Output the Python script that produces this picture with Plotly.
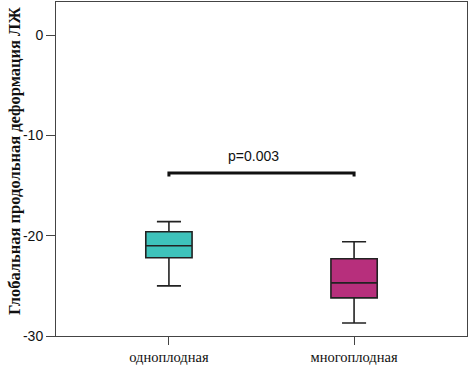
import plotly.graph_objects as go

categories = ["одноплодная", "многоплодная"]
positions = [0, 1]
q1 = [-22.2, -26.2]
median = [-21.0, -24.7]
q3 = [-19.6, -22.3]
lowerfence = [-25.0, -28.7]
upperfence = [-18.6, -20.6]
colors = ["#3EC3BB", "#B72F7C"]
bracket_y = -13.76
bracket_drop = 0.35
p_text = "p=0.003"
y_title = "Глобальная продольная деформация ЛЖ"
y_ticks = [0, -10, -20, -30]

fig = go.Figure()
for i in range(2):
    fig.add_trace(go.Box(
        x=[positions[i]], q1=[q1[i]], median=[median[i]], q3=[q3[i]],
        lowerfence=[lowerfence[i]], upperfence=[upperfence[i]],
        fillcolor=colors[i], line=dict(color="#222222", width=1.6),
        width=0.25, whiskerwidth=0.52, boxpoints=False, showlegend=False,
    ))

fig.add_trace(go.Scatter(
    x=[positions[0], positions[0], positions[1], positions[1]],
    y=[bracket_y - bracket_drop, bracket_y, bracket_y, bracket_y - bracket_drop],
    mode="lines", line=dict(color="#111111", width=3), showlegend=False, hoverinfo="skip",
))

fig.add_annotation(x=(positions[0] + positions[1]) / 2, y=bracket_y, yshift=17, xshift=-8,
                   text=p_text, showarrow=False,
                   font=dict(family="Arial, Liberation Sans", size=14, color="#111111"))

fig.add_annotation(xref="paper", yref="paper", x=0, y=0.5, xshift=-42, yshift=8,
                   text="<b>" + y_title + "</b>", textangle=-90, showarrow=False,
                   xanchor="center", yanchor="middle",
                   font=dict(family="Liberation Serif, Times New Roman", size=16.5, color="#111111"))

fig.update_layout(
    width=469, height=365,
    margin=dict(l=56, r=2, t=2, b=29, autoexpand=False),
    plot_bgcolor="white", paper_bgcolor="white",
    xaxis=dict(range=[-0.61, 1.61], tickvals=positions, ticktext=categories,
               automargin=False,
               showgrid=False, zeroline=False, showline=True, mirror=True,
               linecolor="#444444", linewidth=1, ticks="outside", ticklen=8,
               tickcolor="#444444",
               tickfont=dict(family="Liberation Serif, Times New Roman", size=14.5, color="#111111")),
    yaxis=dict(range=[-30, 3.3], tickvals=y_ticks, ticktext=[str(v) for v in y_ticks],
               automargin=False,
               showgrid=False, zeroline=False, showline=True, mirror=True,
               linecolor="#444444", linewidth=1, ticks="outside", ticklen=9,
               tickcolor="#444444",
               tickfont=dict(family="Arial, Liberation Sans", size=14, color="#111111")),
)

fig.write_html("out.html", config={"displayModeBar": False},
               post_script="document.body.style.margin='0';document.body.style.overflow='hidden';")
